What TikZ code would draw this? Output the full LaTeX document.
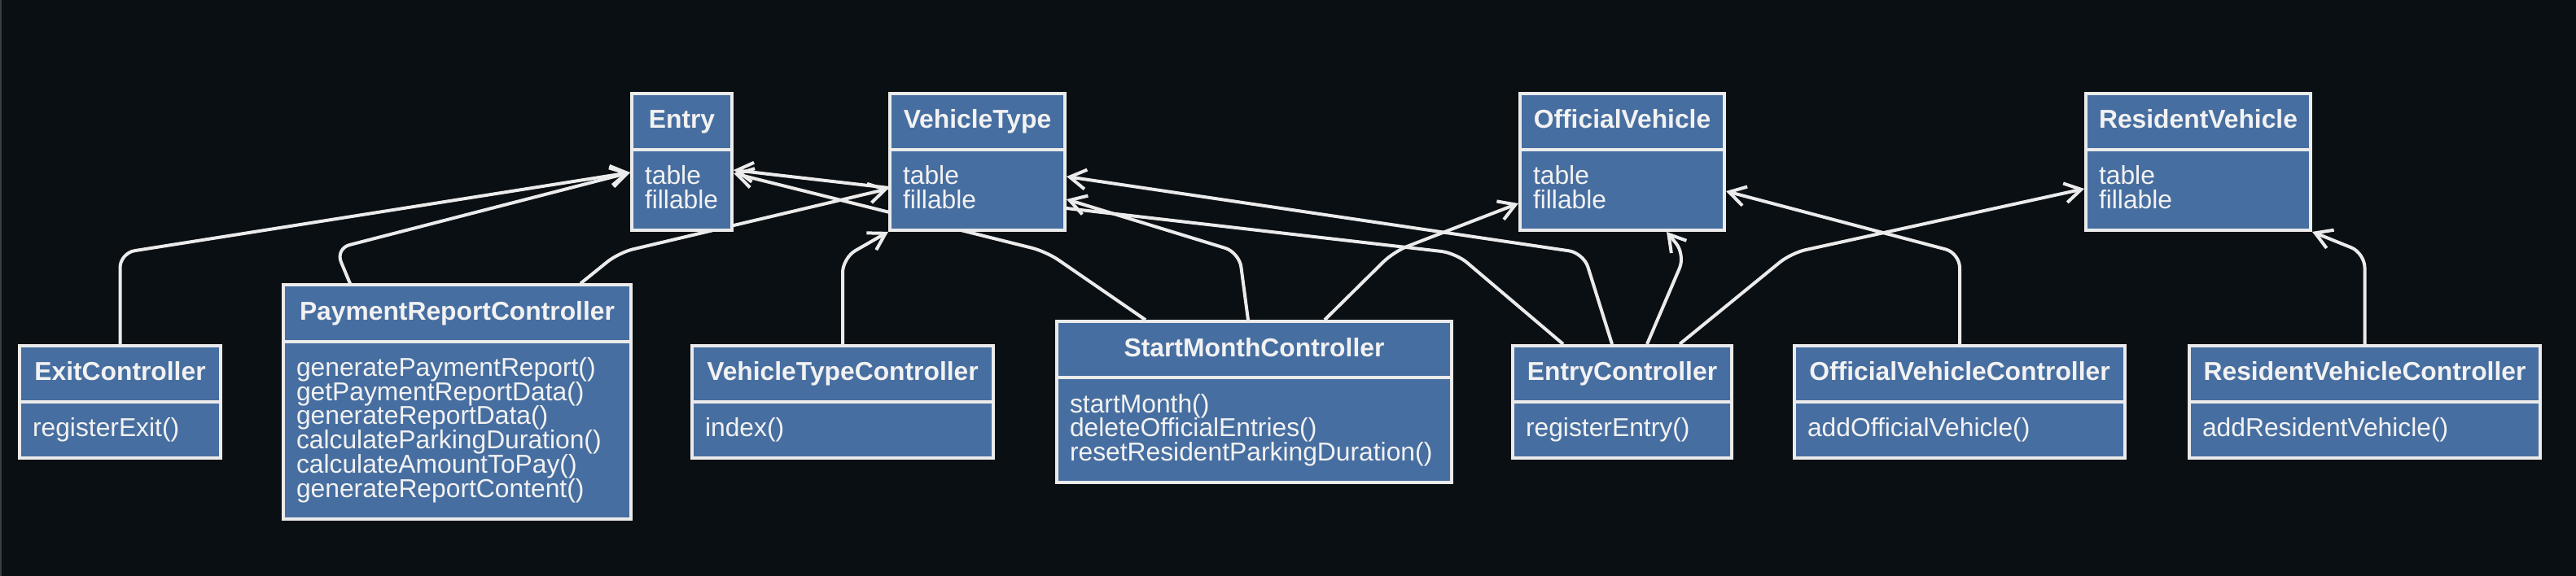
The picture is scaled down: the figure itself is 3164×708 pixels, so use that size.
\documentclass[tikz,border=0pt]{standalone}
\usepackage{fontspec}
\setmainfont{Liberation Sans}
\usepackage{tikz}
\usetikzlibrary{calc,arrows.meta,shapes.multipart,backgrounds}
\definecolor{bgc}{HTML}{0A0F13}
\definecolor{stripc}{HTML}{3B3F43}
\definecolor{boxc}{HTML}{476EA0}
\definecolor{linec}{HTML}{EBEBEB}
\definecolor{txtc}{HTML}{F2F2F2}
\pgfdeclarelayer{edges}
\pgfsetlayers{background,edges,main}
\newcommand{\ls}{\rule[-6.6pt]{0pt}{29.8pt}}
\newcommand{\clsfont}{\fontsize{31.8pt}{29.8pt}\selectfont\lineskiplimit=-20pt}
\newcommand{\cname}[1]{\hbox to\hsize{\hss\bfseries\ls#1\hss}}

\begin{document}
\begin{tikzpicture}[x=1pt, y=-1pt,
    cls/.style={rectangle split, rectangle split parts=2, draw=linec, line width=4pt,
                fill=boxc, text=txtc, font=\clsfont, align=left,
                inner xsep=16pt, inner ysep=17.6pt, text width=#1},
    rel/.style={linec, line width=4pt, rounded corners=18pt,
                -{Straight Barb[length=20pt,width=24pt]}}]
  \useasboundingbox (0,0) rectangle (3164,708);
  \begin{scope}[on background layer]
    \fill[bgc] (0,0) rectangle (3164,708);
    \fill[stripc] (0,0) rectangle (2,708);
  \end{scope}
  % models: name + table, fillable
  \foreach \n/\t/\x/\w in {entry/Entry/837.5/91, vtype/VehicleType/1200.5/183,
                           ov/OfficialVehicle/1992.5/219, rv/ResidentVehicle/2700/244}
    {\node[cls=\w pt] (\n) at (\x,199) {\cname{\t}\nodepart{two}\ls table\\\ls fillable};}
  % controllers with one method
  \foreach \n/\t/\m/\x/\w in {exitc/ExitController/registerExit()/147.5/215,
                              vtc/VehicleTypeController/index()/1035/338,
                              ec/EntryController/registerEntry()/1992.5/237,
                              ovc/OfficialVehicleController/addOfficialVehicle()/2407/374,
                              rvc/ResidentVehicleController/addResidentVehicle()/2904.5/399}
    {\node[cls=\w pt] (\n) at (\x,494) {\cname{\t}\nodepart{two}\ls\m};}
  \node[cls=395pt] (prc) at (561.5,494) {\cname{PaymentReportController}\nodepart{two}%
    \ls generatePaymentReport()\\\ls getPaymentReportData()\\\ls generateReportData()\\
    \ls calculateParkingDuration()\\\ls calculateAmountToPay()\\\ls generateReportContent()};
  \node[cls=453pt] (smc) at (1540.5,494) {\cname{StartMonthController}\nodepart{two}%
    \ls startMonth()\\\ls deleteOfficialEntries()\\\ls resetResidentParkingDuration()};
  % associations (under the boxes)
  \begin{pgfonlayer}{edges}
    \draw[rel] (exitc.north) -- ++(0,-112) -- ([yshift=-13pt]entry.west);
    \draw[rel] ([xshift=-131.5pt]prc.north) -- ++(-18,-43) -- ([yshift=-13pt]entry.west);
    \draw[rel] ([xshift=151.5pt]prc.north) -- ++(47,-38) -- ([yshift=-33pt]vtype.west);
    \draw[rel] (vtc.north) -- ++(0,-106) -- (vtype.south west);
    \draw[rel] ([xshift=-133.5pt]smc.north) -- ++(-122,-84) -- ([yshift=-14pt]entry.east);
    \draw[rel] ([xshift=-7.5pt]smc.north) -- ++(-11,-83) -- ([yshift=-46pt]vtype.east);
    \draw[rel] ([xshift=86.5pt]smc.north) -- ++(85,-84) -- ([yshift=-51pt]ov.west);
    \draw[rel] ([xshift=-72.5pt]ec.north) -- ++(-132,-112) -- ([yshift=-10pt]entry.east);
    \draw[rel] ([xshift=-12.5pt]ec.north) -- ++(-35,-112) -- ([yshift=-18pt]vtype.east);
    \draw[rel] ([xshift=30.5pt]ec.north) -- ++(47,-110) -- ([xshift=54.5pt]ov.south);
    \draw[rel] ([xshift=70.5pt]ec.north) -- ++(137,-112) -- ([yshift=-33pt]rv.west);
    \draw[rel] (ovc.north) -- ++(0,-112) -- ([yshift=-36pt]ov.east);
    \draw[rel] (rvc.north) -- ++(0,-112) -- (rv.south east);
  \end{pgfonlayer}
\end{tikzpicture}
\end{document}
